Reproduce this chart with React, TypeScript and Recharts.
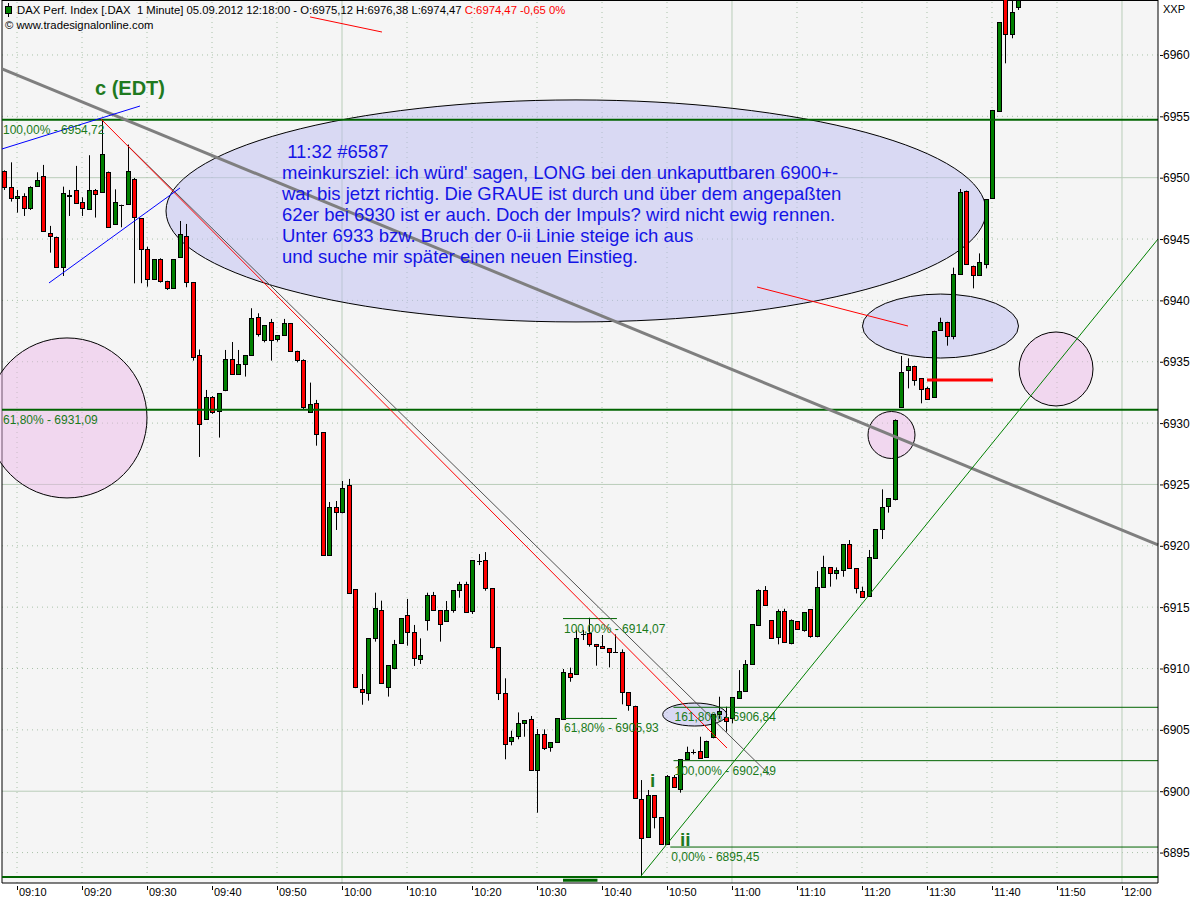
import React from 'react';
import {
  ComposedChart,
  Bar,
  XAxis,
  YAxis,
  CartesianGrid,
  ReferenceLine,
  ReferenceDot,
} from 'recharts';

const FONT = '"Liberation Sans", Arial, sans-serif';

// first candle is 09:08, time axis counts minutes after 09:10, one candle per minute
const FIRST_MINUTE = -2;

const opens = [
  6950.55, 6949.22, 6948.32, 6948.54, 6947.56, 6949.3, 6950.11, 6945.47, 6945.17, 6942.75,
  6948.62, 6948.97, 6948.0, 6947.42, 6948.97, 6948.81, 6950.49, 6946.17, 6947.8, 6947.83,
  6949.9, 6946.69, 6944.16, 6941.72, 6943.35, 6941.58, 6940.99, 6943.49, 6945.25, 6941.5,
  6935.55, 6930.39, 6932.16, 6930.93, 6932.65, 6935.2, 6933.98, 6934.79, 6935.5, 6938.62,
  6936.78, 6938.21, 6936.83, 6937.16, 6938.13, 6935.9, 6935.15, 6930.88, 6931.61, 6929.25,
  6919.23, 6923.14, 6922.7, 6924.98, 6916.45, 6908.3, 6907.98, 6912.46, 6914.77, 6908.47,
  6910.02, 6912.05, 6914.34, 6912.95, 6910.75, 6913.96, 6915.97, 6914.77, 6913.84, 6914.71,
  6916.37, 6916.88, 6914.63, 6918.78, 6918.81, 6916.53, 6911.72, 6907.97, 6904.03, 6904.44,
  6905.53, 6905.91, 6901.73, 6904.66, 6903.57, 6903.98, 6905.94, 6909.6, 6909.52, 6912.8,
  6912.86, 6911.99, 6911.83, 6911.64, 6911.32, 6911.32, 6908.06, 6906.97, 6899.33, 6896.24,
  6899.69, 6897.87, 6895.69, 6901.13, 6900.15, 6902.62, 6903.17, 6903.27, 6902.81, 6904.39,
  6906.26, 6906.07, 6905.94, 6907.57, 6908.16, 6910.36, 6913.52, 6916.39, 6913.92, 6912.54,
  6914.68, 6912.05, 6913.84, 6913.14, 6914.82, 6912.65, 6916.61, 6918.24, 6917.75, 6918.03,
  6920.12, 6918.16, 6916.31, 6915.85, 6918.98, 6921.34, 6923.19, 6923.8, 6931.28, 6934.38,
  6934.68, 6933.65, 6932.83, 6932.15, 6937.59, 6938.26, 6937.1, 6942.12, 6948.94, 6942.83,
  6942.07, 6942.96, 6948.32, 6955.43, 6965.5, 6961.71, 6963.94,
];

const highs = [
  6950.6, 6951.25, 6949.0, 6948.73, 6949.3, 6950.44, 6951.04, 6946.07, 6945.2, 6949.27,
  6949.0, 6950.96, 6948.4, 6951.83, 6949.08, 6954.72, 6950.5, 6949.05, 6947.8, 6952.7,
  6949.98, 6946.7, 6944.38, 6943.35, 6943.43, 6941.6, 6943.35, 6946.47, 6946.23, 6941.5,
  6936.0, 6932.7, 6932.2, 6932.45, 6935.96, 6936.61, 6935.96, 6935.55, 6939.36, 6938.95,
  6937.97, 6938.49, 6937.16, 6938.49, 6938.13, 6935.9, 6935.2, 6933.3, 6931.89, 6929.25,
  6923.57, 6923.65, 6925.28, 6925.45, 6916.45, 6909.55, 6912.46, 6916.18, 6915.53, 6910.27,
  6912.33, 6914.1, 6915.67, 6913.55, 6912.46, 6916.18, 6916.24, 6914.77, 6915.5, 6916.37,
  6917.07, 6917.07, 6918.81, 6919.33, 6919.49, 6916.53, 6911.72, 6909.2, 6904.93, 6906.42,
  6905.78, 6906.13, 6905.07, 6905.04, 6903.98, 6905.94, 6909.96, 6910.07, 6913.14, 6913.14,
  6914.14, 6912.0, 6912.73, 6911.65, 6912.78, 6911.56, 6908.06, 6906.97, 6900.91, 6900.1,
  6899.69, 6897.87, 6901.32, 6901.32, 6902.6, 6903.63, 6903.4, 6904.44, 6904.12, 6906.26,
  6907.7, 6906.89, 6907.65, 6909.87, 6910.69, 6913.6, 6916.45, 6916.72, 6913.92, 6914.82,
  6914.87, 6914.0, 6913.85, 6914.57, 6914.82, 6917.94, 6919.19, 6918.24, 6918.24, 6920.12,
  6920.47, 6918.16, 6916.67, 6919.66, 6921.35, 6924.6, 6923.87, 6930.3, 6935.47, 6935.28,
  6934.68, 6933.65, 6932.97, 6937.53, 6938.59, 6938.26, 6942.67, 6949.08, 6948.95, 6942.83,
  6943.83, 6948.24, 6955.52, 6962.66, 6966.0, 6964.5, 6964.6,
];

const lows = [
  6949.0, 6948.05, 6947.15, 6946.88, 6947.37, 6949.3, 6945.6, 6943.89, 6942.7, 6941.99,
  6946.88, 6947.9, 6946.88, 6947.4, 6946.75, 6948.8, 6945.96, 6946.15, 6945.96, 6947.8,
  6941.39, 6941.4, 6941.12, 6941.7, 6941.45, 6940.85, 6940.98, 6943.48, 6941.07, 6935.09,
  6927.24, 6930.31, 6930.75, 6928.82, 6932.6, 6933.97, 6933.95, 6933.79, 6935.5, 6937.05,
  6936.58, 6935.09, 6936.64, 6937.15, 6935.8, 6934.95, 6931.12, 6930.87, 6928.16, 6919.2,
  6919.2, 6921.29, 6922.65, 6916.07, 6908.4, 6907.05, 6907.38, 6912.19, 6908.78, 6907.71,
  6909.93, 6912.0, 6911.86, 6910.21, 6910.37, 6913.09, 6914.76, 6912.19, 6913.84, 6914.55,
  6915.77, 6914.55, 6914.44, 6918.43, 6916.34, 6911.64, 6907.43, 6902.6, 6903.74, 6904.23,
  6904.44, 6901.72, 6898.25, 6903.36, 6903.22, 6903.98, 6905.93, 6908.92, 6909.5, 6912.32,
  6911.78, 6910.23, 6911.6, 6910.09, 6911.3, 6907.08, 6906.56, 6899.5, 6893.03, 6896.2,
  6896.97, 6895.69, 6895.69, 6900.3, 6899.88, 6902.6, 6903.0, 6902.7, 6902.73, 6904.31,
  6905.9, 6904.85, 6905.53, 6907.56, 6908.15, 6910.36, 6913.5, 6915.14, 6912.45, 6911.97,
  6912.18, 6911.97, 6913.2, 6913.0, 6912.51, 6912.54, 6916.6, 6916.67, 6917.26, 6917.48,
  6918.15, 6916.12, 6915.84, 6915.84, 6918.97, 6920.55, 6922.7, 6923.7, 6931.27, 6932.83,
  6933.05, 6931.61, 6931.9, 6932.07, 6937.58, 6936.31, 6936.83, 6942.1, 6942.95, 6940.98,
  6942.05, 6942.61, 6948.3, 6955.43, 6959.32, 6961.36, 6963.67,
];

const closes = [
  6949.27, 6948.32, 6948.51, 6947.59, 6949.27, 6949.79, 6945.63, 6945.22, 6942.7, 6948.76,
  6948.56, 6947.91, 6947.48, 6948.97, 6948.65, 6951.91, 6946.01, 6947.99, 6947.8, 6950.52,
  6946.77, 6944.16, 6941.72, 6943.35, 6941.58, 6940.99, 6943.35, 6945.39, 6941.53, 6935.42,
  6929.9, 6932.16, 6930.93, 6932.43, 6935.2, 6933.98, 6934.79, 6935.53, 6938.54, 6937.24,
  6937.97, 6936.78, 6937.16, 6938.13, 6935.82, 6935.15, 6931.29, 6931.53, 6929.11, 6919.23,
  6923.14, 6922.73, 6924.69, 6916.21, 6908.47, 6908.06, 6912.46, 6914.91, 6908.79, 6910.26,
  6911.97, 6914.09, 6912.95, 6910.86, 6911.08, 6915.97, 6914.77, 6913.6, 6914.77, 6916.37,
  6916.88, 6914.63, 6918.81, 6918.78, 6916.53, 6911.7, 6907.97, 6903.82, 6904.39, 6905.53,
  6905.77, 6901.73, 6904.66, 6903.55, 6903.98, 6905.94, 6909.74, 6909.28, 6912.46, 6912.8,
  6911.97, 6911.83, 6911.64, 6911.32, 6911.32, 6908.06, 6907.02, 6899.5, 6896.16, 6899.69,
  6897.87, 6895.69, 6901.24, 6900.31, 6902.59, 6903.17, 6903.17, 6902.73, 6904.12, 6906.26,
  6906.5, 6905.75, 6907.65, 6908.16, 6910.36, 6913.6, 6916.39, 6915.15, 6912.46, 6914.68,
  6912.19, 6913.95, 6913.22, 6914.57, 6912.65, 6916.61, 6918.24, 6917.75, 6918.0, 6920.12,
  6918.16, 6916.53, 6915.85, 6919.06, 6921.34, 6923.13, 6923.87, 6930.25, 6934.13, 6934.68,
  6933.56, 6932.75, 6931.94, 6937.53, 6938.26, 6937.1, 6942.12, 6948.8, 6942.96, 6942.12,
  6943.1, 6948.23, 6955.52, 6962.66, 6961.71, 6963.53, 6964.5,
];

const timeTicks = [0, 10, 20, 30, 40, 50, 60, 70, 80, 90, 100, 110, 120, 130, 140, 150, 160, 170];
const timeLabels = [
  '09:10', '09:20', '09:30', '09:40', '09:50', '10:00', '10:10', '10:20', '10:30',
  '10:40', '10:50', '11:00', '11:10', '11:20', '11:30', '11:40', '11:50', '12:00',
];
const solidTimeGrid = [50, 110, 170];

const priceTicks = [6895, 6900, 6905, 6910, 6915, 6920, 6925, 6930, 6935, 6940, 6945, 6950, 6955, 6960];
const solidPriceGrid = [6900, 6925, 6950];

const X_MIN = -2.31;
const X_MAX = 175.54;
const Y_MIN = 6892.52;
const Y_MAX = 6964.48;

// drawn fib / support levels
const thickLevels = [6954.72, 6931.09, 6893.0];
const fibLines = [
  { price: 6914.07, from: 84, to: 92.3, label: '100,00% - 6914,07' },
  { price: 6905.93, from: 84, to: 92.3, label: '61,80% - 6905,93' },
  { price: 6906.84, from: 101, to: X_MAX, label: '161,80% - 6906,84' },
  { price: 6902.49, from: 101, to: X_MAX, label: '100,00% - 6902,49' },
  { price: 6895.45, from: 100.5, to: X_MAX, label: '0,00% - 6895,45' },
];
const levelLabels = [
  { t: X_MIN, price: 6954.72, label: '100,00% - 6954,72' },
  { t: X_MIN, price: 6931.09, label: '61,80% - 6931,09' },
];

// trend lines: [minute, price] end points
const trendLines = [
  { id: 'grey', a: [-2.31, 6958.86], b: [175.54, 6920.07] },
  { id: 'greyThin', a: [16.92, 6952.67], b: [115.85, 6901.3] },
  { id: 'red', a: [12.92, 6954.78], b: [109.23, 6903.52] },
  { id: 'redTop', a: [45.08, 6963.1], b: [56.15, 6961.87] },
  { id: 'redMid', a: [113.85, 6941.09], b: [137.08, 6937.91] },
  { id: 'redStop', a: [140.0, 6933.51], b: [150.15, 6933.51] },
  { id: 'blue1', a: [-2.31, 6952.34], b: [18.92, 6955.84] },
  { id: 'blue2', a: [4.92, 6941.42], b: [25.08, 6949.16] },
  { id: 'green', a: [96.0, 6893.09], b: [175.54, 6945.0] },
  { id: 'bottomFib', a: [84.0, 6892.75], b: [89.3, 6892.75] },
];

const lineStyle: Record<string, any> = {
  grey: { stroke: '#7f7f7f', strokeWidth: 3 },
  greyThin: { stroke: '#505050', strokeWidth: 1 },
  red: { stroke: '#ff0000', strokeWidth: 1 },
  redTop: { stroke: '#ff0000', strokeWidth: 1 },
  redMid: { stroke: '#ff0000', strokeWidth: 1 },
  redStop: { stroke: '#ff0000', strokeWidth: 3 },
  blue1: { stroke: '#0000ff', strokeWidth: 1 },
  blue2: { stroke: '#0000ff', strokeWidth: 1 },
  green: { stroke: '#008000', strokeWidth: 1 },
  bottomFib: { stroke: '#006400', strokeWidth: 3 },
};

const ellipses = [
  { id: 'note', t: 86.0, price: 6947.29 },
  { id: 'target', t: 142.08, price: 6937.91 },
  { id: 'fib161', t: 104.26, price: 6906.25 },
  { id: 'pinkLeft', t: 7.69, price: 6930.42 },
  { id: 'pinkRight', t: 159.85, price: 6934.41 },
  { id: 'pinkSmall', t: 134.54, price: 6929.03 },
];

const ellipseStyle: Record<string, any> = {
  note: { rx: 410, ry: 111, fill: 'rgba(190,190,242,0.5)' },
  target: { rx: 78, ry: 32, fill: 'rgba(190,190,242,0.5)' },
  fib161: { rx: 32, ry: 11.5, fill: 'rgba(190,190,242,0.5)' },
  pinkLeft: { rx: 80, ry: 80, fill: 'rgba(238,180,232,0.45)' },
  pinkRight: { rx: 37, ry: 37, fill: 'rgba(238,180,232,0.45)' },
  pinkSmall: { rx: 23.5, ry: 23.5, fill: 'rgba(238,180,232,0.45)' },
};

const waveLabels = [
  { t: 12.0, price: 6956.74, text: 'c (EDT)', size: 20 },
  { t: 97.4, price: 6900.34, text: 'i', size: 19 },
  { t: 102.0, price: 6895.53, text: 'ii', size: 19 },
];

const noteAnchor = { t: 40.77, price: 6951.6 };
const noteLines = [
  ' 11:32 #6587',
  "meinkursziel: ich würd' sagen, LONG bei den unkaputtbaren 6900+-",
  'war bis jetzt richtig. Die GRAUE ist durch und über dem angepaßten',
  '62er bei 6930 ist er auch. Doch der Impuls? wird nicht ewig rennen.',
  'Unter 6933 bzw. Bruch der 0-ii Linie steige ich aus',
  'und suche mir später einen neuen Einstieg.',
];

const candles = opens.map((o, i) => ({
  t: FIRST_MINUTE + i,
  o,
  h: highs[i],
  l: lows[i],
  c: closes[i],
  range: [lows[i], highs[i]],
}));

const GRID = '#a9c2a9';
const GRID_SOLID = '#b9cdb9';
const DARK_GREEN = '#006400';

function Candle(props: any) {
  const { x, y, width, height, payload } = props;
  if (x == null || payload == null) return null;
  const { o, h, l, c } = payload;
  const top = Math.min(y, y + height);
  const hgt = Math.abs(height);
  const span = h - l;
  const py = (v: number) => (span > 0 ? top + ((h - v) / span) * hgt : top);
  const cx = Math.round(x + width / 2);
  const bTop = py(Math.max(o, c));
  const bBot = py(Math.min(o, c));
  const bh = Math.round(bBot - bTop);
  return (
    <g>
      <line x1={cx + 0.5} x2={cx + 0.5} y1={top} y2={top + hgt} stroke="#000" strokeWidth={1} />
      {bh < 1 ? (
        <line x1={cx - 2} x2={cx + 3} y1={Math.round(bTop) + 0.5} y2={Math.round(bTop) + 0.5} stroke="#000" />
      ) : (
        <rect
          x={cx - 1.5}
          y={Math.round(bTop) + 0.5}
          width={4}
          height={bh}
          fill={c >= o ? '#008000' : '#ff0000'}
          stroke="#000"
          strokeWidth={1}
        />
      )}
    </g>
  );
}

const PriceTick = ({ x, y, payload }: any) => (
  <g>
    <line x1={x + 2} x2={x + 5} y1={y + 0.5} y2={y + 0.5} stroke="#000" />
    <text x={x + 5} y={y + 4.5} fontSize={12} fontFamily={FONT} fill="#000">
      {payload.value}
    </text>
  </g>
);

const TimeTick = ({ x, y, payload }: any) => (
  <g>
    <line x1={x + 0.5} x2={x + 0.5} y1={y + 3} y2={y + 7} stroke="#000" />
    <text x={x + 2} y={y + 13} fontSize={11} fontFamily={FONT} fill="#000">
      {timeLabels[timeTicks.indexOf(payload.value)]}
    </text>
  </g>
);

export default function App() {
  return (
    <div style={{ position: 'absolute', left: 0, top: 0, width: 1200, height: 900, background: '#fff', fontFamily: FONT }}>
      <ComposedChart width={1200} height={900} data={candles} margin={{ top: 0, right: 0, bottom: 0, left: 2 }}>
        <CartesianGrid horizontal={false} vertical={false} fill="#f5f5f5" stroke="none" />
        <XAxis
          type="number"
          dataKey="t"
          domain={[X_MIN, X_MAX]}
          allowDataOverflow
          ticks={timeTicks}
          interval={0}
          height={17}
          tickSize={0}
          tickMargin={0}
          tickLine={false}
          axisLine={{ stroke: '#000' }}
          tick={<TimeTick />}
        />
        <YAxis
          orientation="right"
          domain={[Y_MIN, Y_MAX]}
          allowDataOverflow
          ticks={priceTicks}
          interval={0}
          width={42}
          tickSize={0}
          tickMargin={0}
          tickLine={false}
          axisLine={{ stroke: '#000' }}
          tick={<PriceTick />}
        />

        {/* grid */}
        {priceTicks.map((p) => (
          <ReferenceLine
            key={`hg${p}`}
            y={p}
            stroke={solidPriceGrid.includes(p) ? GRID_SOLID : GRID}
            strokeDasharray={solidPriceGrid.includes(p) ? undefined : '1 4'}
            zIndex={-90}
          />
        ))}
        {timeTicks.map((t) => (
          <ReferenceLine
            key={`vg${t}`}
            x={t}
            stroke={solidTimeGrid.includes(t) ? GRID_SOLID : GRID}
            strokeDasharray={solidTimeGrid.includes(t) ? undefined : '1 4'}
            zIndex={-90}
          />
        ))}
        <ReferenceLine x={X_MIN} stroke="#000" zIndex={-90} />
        <ReferenceLine y={Y_MAX} stroke="#000" strokeWidth={2} zIndex={-90} />

        {/* ellipses and circles */}
        {ellipses.map((e) => (
          <ReferenceDot
            key={e.id}
            x={e.t}
            y={e.price}
            r={1}
            ifOverflow="visible"
            zIndex={-80}
            shape={(p: any) => (
              <ellipse
                cx={p.cx}
                cy={p.cy}
                rx={ellipseStyle[e.id].rx}
                ry={ellipseStyle[e.id].ry}
                fill={ellipseStyle[e.id].fill}
                stroke="#000"
                strokeWidth={1}
              />
            )}
          />
        ))}

        <Bar dataKey="range" barSize={5} isAnimationActive={false} shape={<Candle />} />

        {/* drawn levels */}
        {thickLevels.map((p) => (
          <ReferenceLine key={`tl${p}`} y={p} stroke={DARK_GREEN} strokeWidth={2} zIndex={450} />
        ))}
        {fibLines.map((f) => (
          <ReferenceLine
            key={`fl${f.price}`}
            segment={[{ x: f.from, y: f.price }, { x: f.to, y: f.price }]}
            stroke={DARK_GREEN}
            strokeWidth={1}
            ifOverflow="visible"
            zIndex={450}
          />
        ))}
        {trendLines.map((l) => (
          <ReferenceLine
            key={l.id}
            segment={[{ x: l.a[0], y: l.a[1] }, { x: l.b[0], y: l.b[1] }]}
            {...lineStyle[l.id]}
            ifOverflow="visible"
            zIndex={460}
          />
        ))}

        {/* texts */}
        {[...levelLabels, ...fibLines.map((f) => ({ t: f.from, price: f.price, label: f.label }))].map((f) => (
          <ReferenceDot
            key={`lab${f.label}`}
            x={f.t}
            y={f.price}
            r={1}
            ifOverflow="visible"
            zIndex={700}
            shape={(p: any) => (
              <text x={p.cx + 1} y={p.cy + 14} fontSize={12} fontFamily={FONT} fill="#1a7a1a">
                {f.label}
              </text>
            )}
          />
        ))}
        {waveLabels.map((w) => (
          <ReferenceDot
            key={`w${w.text}`}
            x={w.t}
            y={w.price}
            r={1}
            ifOverflow="visible"
            zIndex={700}
            shape={(p: any) => (
              <text x={p.cx} y={p.cy} fontSize={w.size} fontWeight="bold" fontFamily={FONT} fill="#1f7a1f">
                {w.text}
              </text>
            )}
          />
        ))}
        <ReferenceDot
          x={noteAnchor.t}
          y={noteAnchor.price}
          r={1}
          ifOverflow="visible"
          zIndex={700}
          shape={(p: any) => (
            <text x={p.cx} y={p.cy} fontSize={18.5} fontFamily={FONT} fill="#1414e6" style={{ whiteSpace: 'pre' }}>
              {noteLines.map((s, k) => (
                <tspan key={k} x={p.cx} dy={k === 0 ? 0 : 21}>
                  {s}
                </tspan>
              ))}
            </text>
          )}
        />
      </ComposedChart>

      {/* header */}
      <svg style={{ position: 'absolute', left: 4, top: 3 }} width={10} height={14}>
        <line x1={4.5} x2={4.5} y1={0} y2={14} stroke="#000" />
        <rect x={1.5} y={3.5} width={6} height={7} fill="#008000" stroke="#000" />
      </svg>
      <div style={{ position: 'absolute', left: 17, top: 3, fontSize: 11.3, lineHeight: '14px', whiteSpace: 'pre', color: '#000' }}>
        {'DAX Perf. Index [.DAX  1 Minute] 05.09.2012 12:18:00 - O:6975,12 H:6976,38 L:6974,47 '}
        <span style={{ color: '#ff0000' }}>C:6974,47 -0,65 0%</span>
      </div>
      <div style={{ position: 'absolute', left: 5, top: 18, fontSize: 11.3, lineHeight: '14px', whiteSpace: 'pre', color: '#000' }}>
        © www.tradesignalonline.com
      </div>
      <div style={{ position: 'absolute', left: 1163, top: 3, fontSize: 11, lineHeight: '13px', color: '#000' }}>XXP</div>
    </div>
  );
}
